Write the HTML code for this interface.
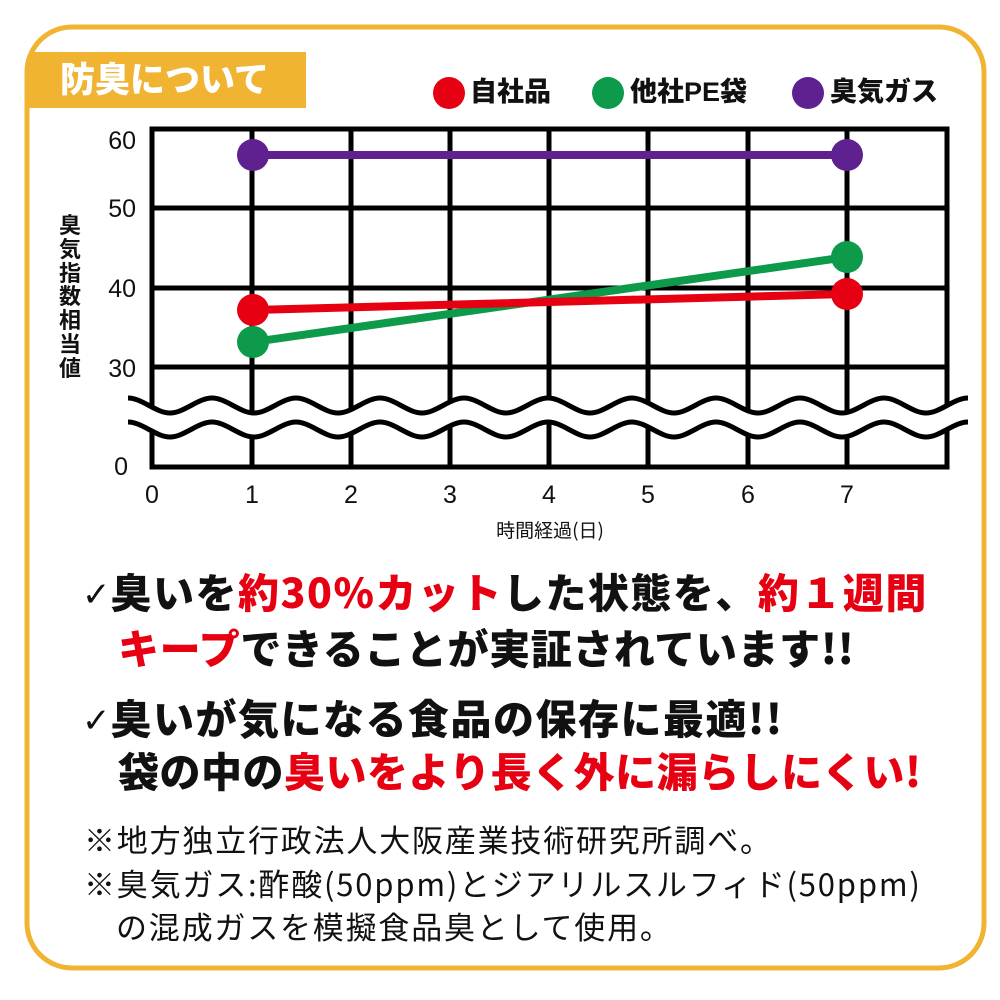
<!DOCTYPE html>
<html><head><meta charset="utf-8"><style>
body{margin:0;width:1000px;height:1000px;background:#fff;position:relative;overflow:hidden;font-family:"Liberation Sans","Noto Sans CJK JP",sans-serif}
.t{position:absolute;white-space:nowrap;line-height:1}
.b{font-weight:900;font-size:41px;color:#111;font-family:"Noto Sans CJK JP",sans-serif}
.r{color:#e60012}
.n{font-size:31px;color:#111;font-family:"Noto Sans CJK JP",sans-serif;letter-spacing:1.8px}
.ck{font-family:"DejaVu Sans",sans-serif;font-weight:normal;font-size:34px;vertical-align:2px;letter-spacing:0}
</style></head><body>
<svg width="1000" height="1000" style="position:absolute;left:0;top:0">
<rect x="27" y="27" width="957" height="941" rx="45" fill="none" stroke="#f0b332" stroke-width="5"/>
<rect x="29" y="52" width="277" height="56" fill="#f0b332"/>
<g stroke="#000" stroke-width="5" fill="none">
<rect x="152" y="129" width="795" height="338"/>
<line x1="152" y1="208" x2="947" y2="208"/><line x1="152" y1="288" x2="947" y2="288"/><line x1="152" y1="367" x2="947" y2="367"/>
<line x1="252" y1="129" x2="252" y2="467"/><line x1="351" y1="129" x2="351" y2="467"/><line x1="450" y1="129" x2="450" y2="467"/><line x1="549" y1="129" x2="549" y2="467"/><line x1="648" y1="129" x2="648" y2="467"/><line x1="748" y1="129" x2="748" y2="467"/><line x1="847" y1="129" x2="847" y2="467"/>
</g>
<defs><path id="w" d="M128 398 C142 398 156 413 170 413 S198 398 212 398 S240 413 254 413 S282 398 296 398 S324 413 338 413 S366 398 380 398 S408 413 422 413 S450 398 464 398 S492 413 506 413 S534 398 548 398 S576 413 590 413 S618 398 632 398 S660 413 674 413 S702 398 716 398 S744 413 758 413 S786 398 800 398 S828 413 842 413 S870 398 884 398 S912 413 926 413 S954 398 968 398"/></defs>
<use href="#w" transform="translate(0,12)" stroke="#fff" stroke-width="22" fill="none"/>
<use href="#w" stroke="#000" stroke-width="5" fill="none"/>
<use href="#w" transform="translate(0,24)" stroke="#000" stroke-width="5" fill="none"/>
<g stroke-width="8" stroke-linecap="round">
<line x1="253" y1="155" x2="847" y2="155" stroke="#5f2090"/>
<line x1="253" y1="342" x2="847" y2="257" stroke="#0d9a4a"/>
<line x1="253" y1="310" x2="847" y2="294" stroke="#e60012"/>
</g>
<circle cx="253" cy="155" r="16" fill="#5f2090"/><circle cx="847" cy="155" r="16" fill="#5f2090"/>
<circle cx="253" cy="342" r="16" fill="#0d9a4a"/><circle cx="847" cy="257" r="16" fill="#0d9a4a"/>
<circle cx="253" cy="310" r="16" fill="#e60012"/><circle cx="847" cy="294" r="16" fill="#e60012"/>
<circle cx="449" cy="93" r="16" fill="#e60012"/><circle cx="608" cy="93" r="16" fill="#0d9a4a"/><circle cx="808" cy="93" r="16" fill="#5f2090"/>
<g font-family="Liberation Sans,sans-serif" font-size="25" fill="#111" text-anchor="end">
<text x="136" y="149">60</text><text x="136" y="217">50</text><text x="136" y="297">40</text><text x="136" y="377">30</text><text x="128" y="475">0</text>
</g>
<g font-family="Liberation Sans,sans-serif" font-size="25" fill="#111" text-anchor="middle">
<text x="152" y="503">0</text><text x="252" y="503">1</text><text x="351" y="503">2</text><text x="450" y="503">3</text><text x="549" y="503">4</text><text x="648" y="503">5</text><text x="748" y="503">6</text><text x="847" y="503">7</text>
</g>
<text x="550" y="537" text-anchor="middle" font-family="Noto Sans CJK JP,sans-serif" font-size="19" fill="#111">時間経過(日)</text>
</svg>
<div class="t" style="left:60px;top:60px;font-size:35px;font-weight:900;color:#fff;font-family:'Noto Sans CJK JP',sans-serif">防臭について</div>
<div class="t" style="left:470px;top:79px;font-size:27px;font-weight:900;color:#111;font-family:'Liberation Sans','Noto Sans CJK JP',sans-serif">自社品</div>
<div class="t" style="left:630px;top:79px;font-size:27px;font-weight:900;color:#111;font-family:'Liberation Sans','Noto Sans CJK JP',sans-serif">他社PE袋</div>
<div class="t" style="left:830px;top:79px;font-size:27px;font-weight:900;color:#111;font-family:'Liberation Sans','Noto Sans CJK JP',sans-serif">臭気ガス</div>
<div class="t" style="left:59px;top:213px;width:24px;font-size:22px;line-height:23.8px;white-space:normal;font-weight:bold;color:#111;font-family:'Noto Sans CJK JP',sans-serif">臭気指数相当値</div>
<div class="t b" style="left:82px;top:570px;letter-spacing:1.5px"><span class="ck">✓</span>臭いを<span class="r">約30%カット</span>した状態を、<span class="r">約１週間</span></div>
<div class="t b" style="left:118px;top:626px;letter-spacing:0.6px"><span class="r">キープ</span>できることが実証されています!!</div>
<div class="t b" style="left:82px;top:696px;letter-spacing:1.5px"><span class="ck">✓</span>臭いが気になる食品の保存に最適!!</div>
<div class="t b" style="left:118px;top:749px;letter-spacing:0.5px">袋の中の<span class="r">臭いをより長く外に漏らしにくい!</span></div>
<div class="t n" style="left:84px;top:823px">※地方独立行政法人大阪産業技術研究所調べ。</div>
<div class="t n" style="left:84px;top:867px">※臭気ガス:酢酸(50ppm)とジアリルスルフィド(50ppm)</div>
<div class="t n" style="left:116px;top:910px">の混成ガスを模擬食品臭として使用。</div>
</body></html>
